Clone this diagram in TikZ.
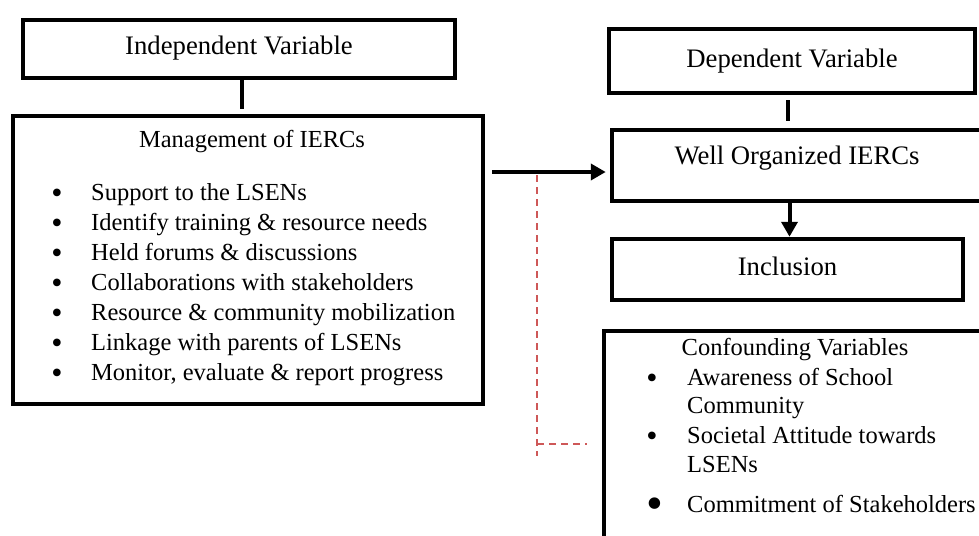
\documentclass[tikz,border=0pt]{standalone}
\usepackage{fontspec}
\setmainfont{Liberation Serif}
\usetikzlibrary{arrows.meta}
\definecolor{dashred}{RGB}{206,88,88}
\begin{document}
\begin{tikzpicture}[x=1pt, y=-1pt,
    box/.style={draw, line width=4.5pt, inner sep=0pt},
    big/.style={font=\fontsize{26.7}{31}\selectfont, text height=18pt, text depth=6pt},
    small/.style={font=\fontsize{24.5}{30}\selectfont, inner sep=0pt},
    dot/.style={font=\fontsize{32}{32}\selectfont, inner sep=0pt},
    link/.style={line width=4.5pt},
    flow/.style={line width=4pt, -{Triangle[length=15pt,width=16pt]}}]
    \clip (0,0) rectangle (979,535);

    % Boxes
    \node[box, big, minimum width=432pt, minimum height=58pt] (iv) at (239,49) {Independent Variable};
    \node[box, minimum width=470pt, minimum height=288pt] (mg) at (248,260) {};
    \node[box, big, minimum width=366pt, minimum height=64pt] (dv) at (792,61) {Dependent Variable};
    \node[box, minimum width=400pt, minimum height=71pt] (wo) at (812,165.5) {};
    \node[box, big, minimum width=351pt, minimum height=61pt] (inc) at (787.5,269.5) {Inclusion};
    \node[box, minimum width=396pt, minimum height=228pt] (cf) at (802,445) {};

    % Texts inside the boxes
    \node[big, anchor=base] (wotxt) at (797,164) {Well Organized IERCs};
    \node[small, anchor=base] (mgtxt) at (252,147) {Management of IERCs};
    \foreach \t [count=\i] in {Support to the LSENs, Identify training \& resource needs,
        Held forums \& discussions, Collaborations with stakeholders,
        Resource \& community mobilization, Linkage with parents of LSENs,
        {Monitor, evaluate \& report progress}} {
        \node[dot, anchor=base] (mgdot\i) at (57,173+30*\i) {\textbullet};
        \node[small, anchor=base west] (mgitem\i) at (91,170+30*\i) {\t};
    }
    \node[small, anchor=base] (cftxt) at (795,355) {Confounding Variables};
    \node[dot, anchor=base] (cfdot1) at (652,388) {\textbullet};
    \node[small, anchor=base west] (cfitem1) at (687,385) {Awareness of School};
    \node[small, anchor=base west] (cfitem1b) at (687,413) {Community};
    \node[dot, anchor=base] (cfdot2) at (652,446) {\textbullet};
    \node[small, anchor=base west] (cfitem2) at (687,443) {Societal Attitude towards};
    \node[small, anchor=base west] (cfitem2b) at (687,472) {LSENs};
    \node[dot, font=\fontsize{48}{48}\selectfont, anchor=base] (cfdot3) at (655,519) {\textbullet};
    \node[small, anchor=base west] (cfitem3) at (687,512) {Commitment of Stakeholders};

    % Connectors
    \draw[link, shorten >=5pt] ([xshift=3pt]iv.south) -- ([xshift=3pt]iv.south |- mg.north);
    \draw[link, shorten <=5pt, shorten >=7pt] ([xshift=-4pt]dv.south) -- ([xshift=-4pt]dv.south |- wo.north);
    \draw[flow, shorten <=7pt, shorten >=4pt] (mg.east |- 0,172) -- (wo.west |- 0,172);
    \draw[flow] ([xshift=2pt]inc.north |- wo.south) -- ([xshift=2pt]inc.north);

    % Confounding link
    \coordinate (fork) at (537,175);
    \coordinate (tail) at (537,456);
    \coordinate (cfin) at (587,444);
    \draw[dashred, line width=1.5pt, dash pattern=on 7pt off 5pt] (fork) -- (tail);
    \draw[dashred, line width=1.5pt, dash pattern=on 7pt off 5pt] (fork |- cfin) -- (cfin);
\end{tikzpicture}
\end{document}
